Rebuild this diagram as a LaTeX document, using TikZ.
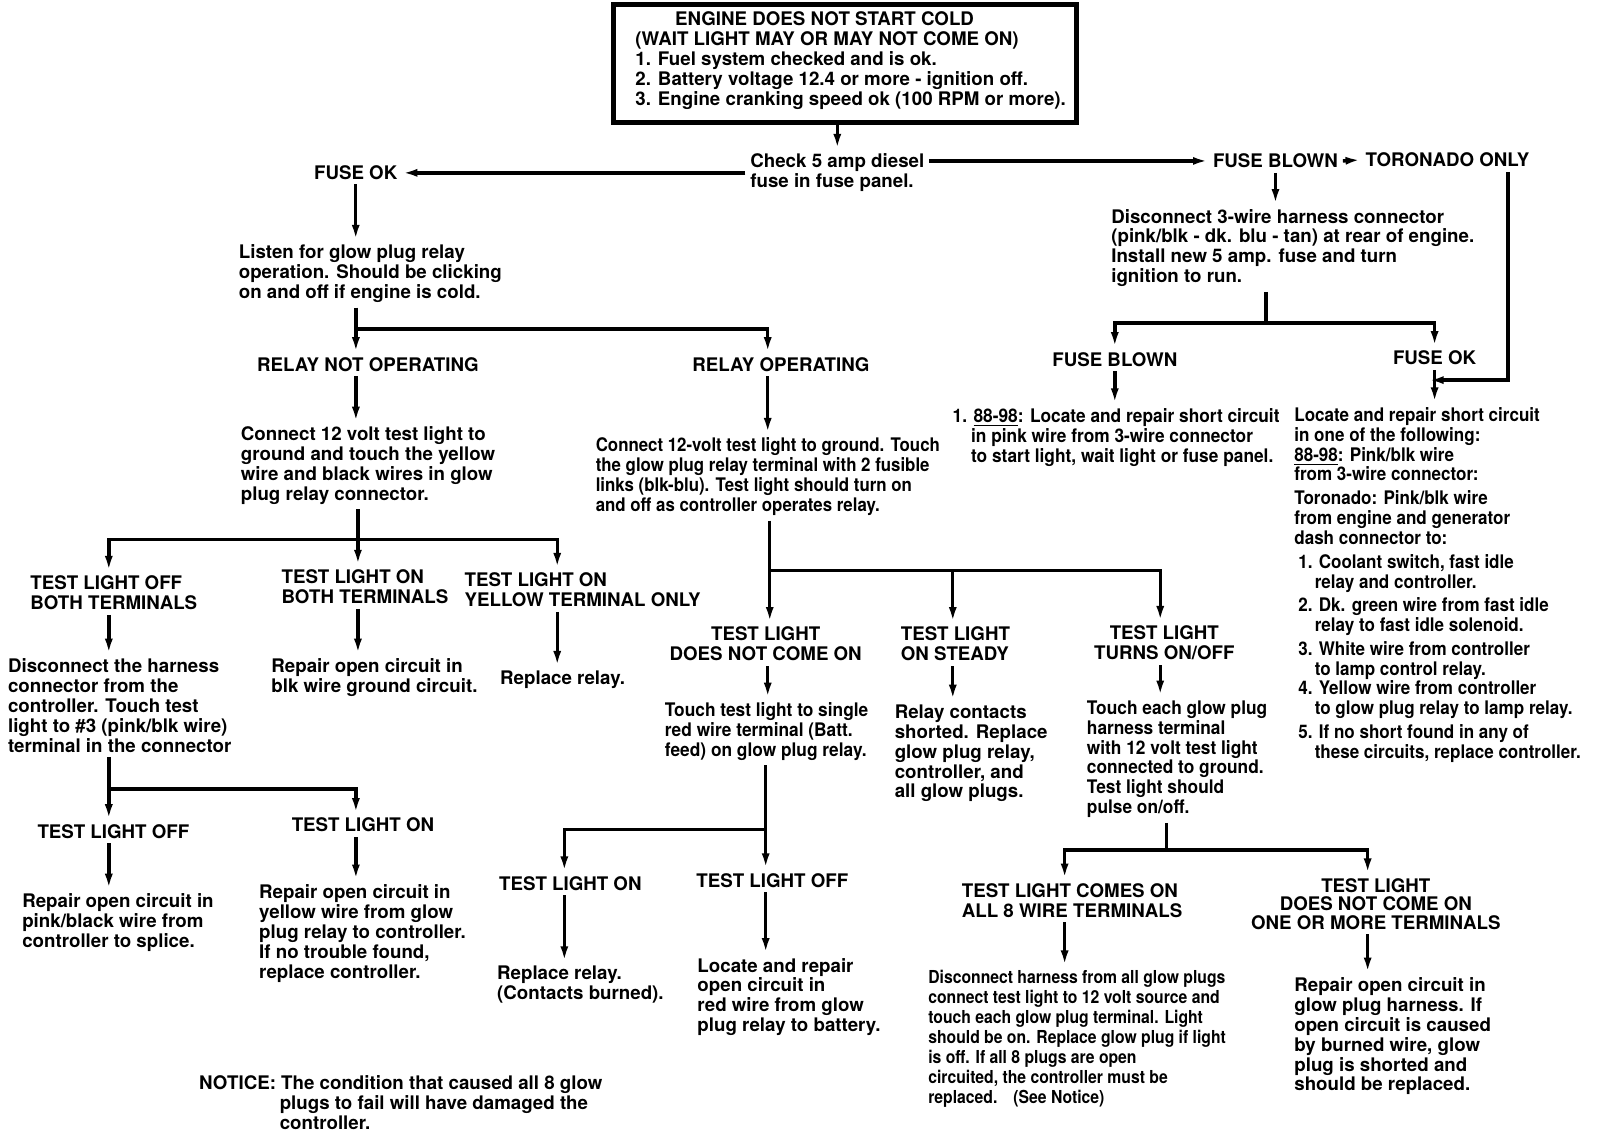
\documentclass[tikz,border=0pt]{standalone}
\usepackage{fontspec}
\setmainfont{TeX Gyre Heros}
\newfontfamily\narrowA[FakeStretch=0.925]{TeX Gyre Heros}
\newfontfamily\narrowC[FakeStretch=0.90]{TeX Gyre Heros}
\newfontfamily\narrowD[FakeStretch=0.91]{TeX Gyre Heros}
\newfontfamily\narrowB[FakeStretch=0.88]{TeX Gyre Heros}
\usetikzlibrary{arrows.meta}
\newcommand\tfont{\fontsize{9.36}{9.95}\selectfont\bfseries}
\newcommand\tfontA{\narrowA\fontsize{9.36}{9.95}\selectfont\bfseries}
\newcommand\tfontC{\narrowC\fontsize{9.36}{9.95}\selectfont\bfseries}
\newcommand\tfontD{\narrowD\fontsize{9.36}{9.95}\selectfont\bfseries}
\newcommand\tfontB{\narrowB\fontsize{8.94}{9.95}\selectfont\bfseries}
\tikzset{
  txt/.style={inner sep=0pt, outer sep=2.5pt, align=left, font=\tfont, anchor=north west, yshift=9.35pt},
  txtA/.style={txt, font=\tfontA},
  txtC/.style={txt, font=\tfontC},
  txtD/.style={txt, font=\tfontD},
  txtB/.style={txt, font=\tfontB},
  wire/.style={line width=1.7pt},
  arr/.style={line width=1.7pt, -{Latex[length=7.5pt,width=4pt]}},
}
\begin{document}
\begin{tikzpicture}[x=0.5085pt,y=-0.511pt]
\useasboundingbox (0,0) rectangle (1573.5,1111.5);

% top box
\node[draw, line width=2.5pt, minimum width=231.4pt, minimum height=58.8pt, inner sep=0pt, anchor=north west] (top) at (601,2) {};
\node[txt] (toptext) at (620,25) {\hspace*{19.9pt}ENGINE DOES NOT START COLD\\(WAIT LIGHT MAY OR MAY NOT COME ON)\\1. Fuel system checked and is ok.\\2. Battery voltage 12.4 or more - ignition off.\\3. Engine cranking speed ok (100 RPM or more).};

\node[txt] (check) at (733,164) {Check 5 amp diesel\\fuse in fuse panel.};
\node[txt] (fuseok) at (304,175) {FUSE OK};
\node[txt] (fuseblown) at (1188,164) {FUSE BLOWN};
\node[txt] (toronado) at (1338,163) {TORONADO ONLY};
\node[txt] (disc3) at (1088,218) {Disconnect 3-wire harness connector\\(pink/blk - dk. blu - tan) at rear of engine.\\Install new 5 amp. fuse and turn\\ignition to run.};
\node[txt] (fb2) at (1030,358) {FUSE BLOWN};
\node[txt] (fok2) at (1365,357) {FUSE OK};
\node[txtA] (short1) at (932,413) {1. \underline{88-98}: Locate and repair short circuit\\\hspace*{9.2pt}in pink wire from 3-wire connector\\\hspace*{9.2pt}to start light, wait light or fuse panel.};
\node[txtD] (loc) at (1268,412) {Locate and repair short circuit\\in one of the following:\\\underline{88-98}: Pink/blk wire\\from 3-wire connector:\\[1.75pt]Toronado: Pink/blk wire\\from engine and generator\\dash connector to:\\[2.25pt]\hspace*{2pt}1. Coolant switch, fast idle\\\hspace*{10.2pt}relay and controller.\\[1.75pt]\hspace*{2pt}2. Dk. green wire from fast idle\\\hspace*{10.2pt}relay to fast idle solenoid.\\[1.75pt]\hspace*{2pt}3. White wire from controller\\\hspace*{10.2pt}to lamp control relay.\\\hspace*{2pt}4. Yellow wire from controller\\\hspace*{10.2pt}to glow plug relay to lamp relay.\\[1.75pt]\hspace*{2pt}5. If no short found in any of\\\hspace*{10.2pt}these circuits, replace controller.};

% left column
\node[txt] (listen) at (230,253) {Listen for glow plug relay\\operation. Should be clicking\\on and off if engine is cold.};
\node[txt] (relaynot) at (248,363) {RELAY NOT OPERATING};
\node[txt] (relayop) at (676,363) {RELAY OPERATING};
\node[txt] (conn12) at (232,431) {Connect 12 volt test light to\\ground and touch the yellow\\wire and black wires in glow\\plug relay connector.};
\node[txt] (tloffboth) at (25,577) {TEST LIGHT OFF\\BOTH TERMINALS};
\node[txt] (tlonboth) at (272,571) {TEST LIGHT ON\\BOTH TERMINALS};
\node[txt] (tlyellow) at (452,574) {TEST LIGHT ON\\YELLOW TERMINAL ONLY};
\node[txt] (discharness) at (3,658) {Disconnect the harness\\connector from the\\controller. Touch test\\light to \#3 (pink/blk wire)\\terminal in the connector};
\node[txt] (repairblk) at (262,658) {Repair open circuit in\\blk wire ground circuit.};
\node[txt] (replacerelay) at (487,670) {Replace relay.};
\node[txt] (tloff2) at (32,820) {TEST LIGHT OFF};
\node[txt] (tlon2) at (282,814) {TEST LIGHT ON};
\node[txt] (repairpink) at (17,888) {Repair open circuit in\\pink/black wire from\\controller to splice.};
\node[txt] (repairyellow) at (250,879) {Repair open circuit in\\yellow wire from glow\\plug relay to controller.\\If no trouble found,\\replace controller.};
\node[txt] (notice) at (191,1066) {NOTICE: The condition that caused all 8 glow\\\hspace*{40.3pt}plugs to fail will have damaged the\\\hspace*{40.3pt}controller.};

% middle column
\node[txtC] (conn12v) at (581,442) {Connect 12-volt test light to ground. Touch\\the glow plug relay terminal with 2 fusible\\links (blk-blu). Test light should turn on\\and off as controller operates relay.};
\node[txt, align=center, anchor=north] (tldnc) at (753,627) {TEST LIGHT\\DOES NOT COME ON};
\node[txt] (tlsteady) at (881,627) {TEST LIGHT\\ON STEADY};
\node[txt, align=center, anchor=north] (tlturns) at (1145,626) {TEST LIGHT\\TURNS ON/OFF};
\node[txtA] (touchsingle) at (649,701) {Touch test light to single\\red wire terminal (Batt.\\feed) on glow plug relay.};
\node[txt] (relaycontacts) at (875,703) {Relay contacts\\shorted. Replace\\glow plug relay,\\controller, and\\all glow plugs.};
\node[txtA] (toucheach) at (1064,699) {Touch each glow plug\\harness terminal\\with 12 volt test light\\connected to ground.\\Test light should\\pulse on/off.};
\node[txt] (tlon3) at (486,871) {TEST LIGHT ON};
\node[txt] (tloff3) at (680,868) {TEST LIGHT OFF};
\node[txt] (replace2) at (484,959) {Replace relay.\\(Contacts burned).};
\node[txt] (locred) at (681,951) {Locate and repair\\open circuit in\\red wire from glow\\plug relay to battery.};
\node[txt] (comes) at (941,878) {TEST LIGHT COMES ON\\ALL 8 WIRE TERMINALS};
\node[txt, align=center, anchor=north, font=\fontsize{9.36}{9.2}\selectfont\bfseries] (doesnot) at (1353,873) {TEST LIGHT\\DOES NOT COME ON\\ONE OR MORE TERMINALS};
\node[txtB] (discall) at (908,963) {Disconnect harness from all glow plugs\\connect test light to 12 volt source and\\touch each glow plug terminal. Light\\should be on. Replace glow plug if light\\is off. If all 8 plugs are open\\circuited, the controller must be\\replaced.\hspace*{8pt}(See Notice)};
\node[txt] (repairglow) at (1268,970) {Repair open circuit in\\glow plug harness. If\\open circuit is caused\\by burned wire, glow\\plug is shorted and\\should be replaced.};

% connectors: top part
\draw[arr] (top.south -| check.north) -- (check.north);
\draw[arr] (check.west) -- (check.west -| fuseok.east);
\draw[arr] (check.east |- fuseblown.west) -- (fuseblown.west);
\draw[arr] (fuseblown.east) -- (toronado.west);
\coordinate (tr) at (1483,372);
\coordinate (trend) at (1405,372);
\draw[arr] (toronado.south -| tr) -- (tr) -- (trend);
\draw[arr] (fuseblown.south) -- (fuseblown.south |- disc3.north);
\coordinate (j3) at (1245,316);
\draw[wire] (disc3.south -| j3) -- (j3);
\draw[arr] (j3) -| (fb2.north);
\draw[arr] (j3) -| (fok2.north);
\draw[arr] (fb2.south) -- (fb2.south |- short1.north);
\draw[arr] (fok2.south) -- (fok2.south |- loc.north);

% left
\draw[arr] (fuseok.south) -- (fuseok.south |- listen.north);
\coordinate (j2) at (350,322);
\coordinate (j2r) at (755,322);
\draw[wire] (listen.south -| j2) -- (j2);
\draw[arr] (j2) -- (j2 |- relaynot.north);
\draw[arr] (j2) -- (j2r) -- (j2r |- relayop.north);
\draw[arr] (relaynot.south -| j2) -- (j2 |- conn12.north);
\coordinate (j4) at (352,528);
\coordinate (j4l) at (107,528);
\coordinate (j4r) at (548,528);
\draw[wire] (conn12.south -| j4) -- (j4);
\draw[arr] (j4) -- (j4 |- tlonboth.north);
\draw[arr] (j4) -- (j4l) -- (j4l |- tloffboth.north);
\draw[arr] (j4) -- (j4r) -- (j4r |- tlyellow.north);
\draw[arr] (tloffboth.south -| j4l) -- (j4l |- discharness.north);
\draw[arr] (tlonboth.south -| j4) -- (j4 |- repairblk.north);
\draw[arr] (tlyellow.south -| j4r) -- (j4r |- replacerelay.north);
\coordinate (j5) at (107,772);
\coordinate (j5r) at (350,772);
\draw[wire] (discharness.south -| j5) -- (j5);
\draw[arr] (j5) -- (j5 |- tloff2.north);
\draw[arr] (j5) -- (j5r) -- (j5r |- tlon2.north);
\draw[arr] (tloff2.south -| j5) -- (j5 |- repairpink.north);
\draw[arr] (tlon2.south -| j5r) -- (j5r |- repairyellow.north);

% middle
\draw[arr] (relayop.south -| j2r) -- (j2r |- conn12v.north);
\coordinate (j6) at (757,558);
\coordinate (j6m) at (937,558);
\coordinate (j6r) at (1141,558);
\draw[wire] (conn12v.south -| j6) -- (j6);
\draw[arr] (j6) -- (j6 |- tldnc.north);
\draw[arr] (j6) -- (j6m) -- (j6m |- tlsteady.north);
\draw[arr] (j6m) -- (j6r) -- (j6r |- tlturns.north);
\draw[arr] (tldnc.south -| j2r) -- (j2r |- touchsingle.north);
\draw[arr] (tlsteady.south -| j6m) -- (j6m |- relaycontacts.north);
\draw[arr] (tlturns.south -| j6r) -- (j6r |- toucheach.north);
\coordinate (j7) at (753,812);
\coordinate (j7l) at (555,812);
\draw[wire] (touchsingle.south -| j7) -- (j7);
\draw[arr] (j7) -- (j7 |- tloff3.north);
\draw[arr] (j7) -- (j7l) -- (j7l |- tlon3.north);
\draw[arr] (tlon3.south -| j7l) -- (j7l |- replace2.north);
\draw[arr] (tloff3.south -| j7) -- (j7 |- locred.north);
\coordinate (j8) at (1147,832);
\coordinate (j8l) at (1047,832);
\coordinate (j8r) at (1345,832);
\draw[wire] (toucheach.south -| j8) -- (j8);
\draw[arr] (j8) -- (j8l) -- (j8l |- comes.north);
\draw[arr] (j8) -- (j8r) -- (j8r |- doesnot.north);
\draw[arr] (comes.south -| j8l) -- (j8l |- discall.north);
\draw[arr] (doesnot.south -| j8r) -- (j8r |- repairglow.north);
\end{tikzpicture}
\end{document}
